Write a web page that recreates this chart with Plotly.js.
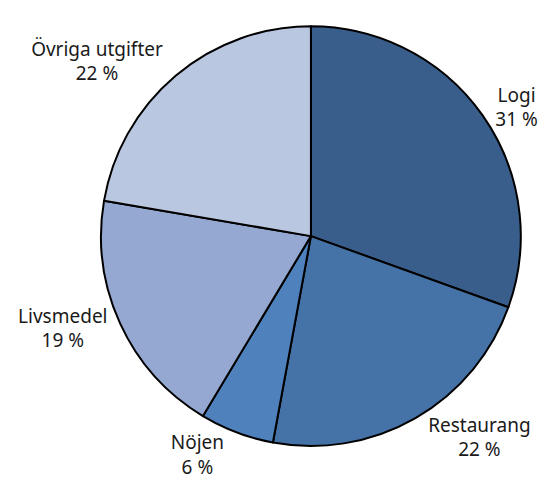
<!DOCTYPE html>
<html>
<head>
<meta charset="utf-8">
<script src="https://cdn.plot.ly/plotly-3.0.1.min.js"></script>
<style>html,body{margin:0;padding:0;background:#fff;}#chart{width:545px;height:495px;}</style>
</head>
<body>
<div id="chart"></div>
<script>
var categories = ['Logi', 'Restaurang', 'Nöjen', 'Livsmedel', 'Övriga utgifter'];
var values = [30.5, 22.4, 5.7, 19.1, 22.3];
var pctLabels = ['31 %', '22 %', '6 %', '19 %', '22 %'];
var colors = ['#3A5E8C', '#4573A7', '#4F81BD', '#95A8D1', '#BAC7E1'];

var trace = {
  type: 'pie',
  labels: categories,
  values: values,
  text: pctLabels,
  texttemplate: '%{label}<br>%{text}',
  textposition: 'outside',
  sort: false,
  direction: 'clockwise',
  rotation: 0,
  marker: {colors: colors, line: {color: '#000', width: 2}},
  outsidetextfont: {family: 'Noto Sans, sans-serif', size: 19, color: '#1a1a1a'},
  domain: {x: [0.185, 0.956], y: [0.099, 0.947]},
  hoverinfo: 'none',
  showlegend: false
};

var layout = {
  width: 545, height: 495,
  margin: {l: 0, r: 0, t: 0, b: 0},
  paper_bgcolor: '#fff',
  showlegend: false
};

Plotly.newPlot('chart', [trace], layout, {displayModeBar: false, staticPlot: true});
</script>
</body>
</html>
